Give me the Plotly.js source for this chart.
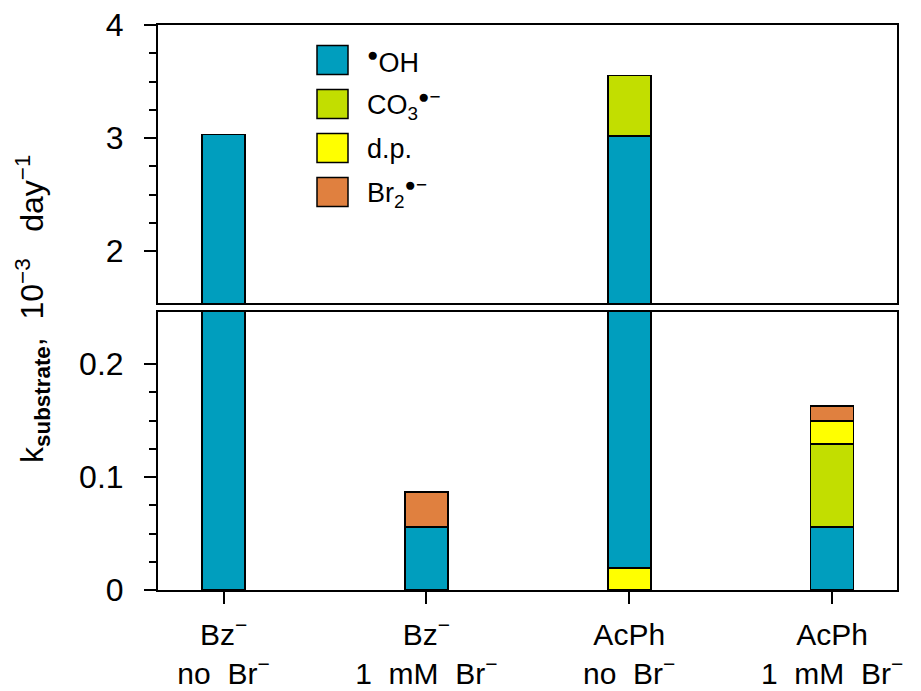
<!DOCTYPE html>
<html>
<head>
<meta charset="utf-8">
<script src="https://cdn.plot.ly/plotly-3.0.1.min.js"></script>
<style>html,body{margin:0;padding:0;background:#fff;}#chart{width:921px;height:691px;}</style>
</head>
<body>
<div id="chart"></div>
<script>
// ---- data ----
const NB = "\u00A0";
const categories = [
  "Bz<sup>−</sup><br>no" + NB + NB + "Br<sup>−</sup>",
  "Bz<sup>−</sup><br>1" + NB + NB + "mM" + NB + NB + "Br<sup>−</sup>",
  "AcPh<br>no" + NB + NB + "Br<sup>−</sup>",
  "AcPh<br>1" + NB + NB + "mM" + NB + NB + "Br<sup>−</sup>"
];
// stacking order bottom -> top: d.p.(low), •OH, CO3•−, d.p.(high), Br2•−
const dpLow  = [0, 0, 0.0195, 0];
const OH     = [3.03, 0.0555, 3.0, 0.0555];
const CO3    = [0, 0, 0.533, 0.0735];
const dpHigh = [0, 0, 0, 0.0206];
const Br2    = [0, 0.031, 0, 0.0134];

const legendLabels = ["<sup>●</sup>OH", "CO<sub>3</sub><sup>●−</sup>", "d.p.", "Br<sub>2</sub><sup>●−</sup>"];
const lowerTicks = [0, 0.1, 0.2];
const lowerTickText = ["0", "0.1", "0.2"];
const lowerMinor = [0.025, 0.05, 0.075, 0.125, 0.15, 0.175];
const upperTicks = [2, 3, 4];
const upperMinor = [2.25, 2.5, 2.75, 3.25, 3.5, 3.75];
const yTitle = "k<sub><b>substrate</b></sub>," + NB + NB + "10<sup>−3</sup>" + NB + NB + NB + "day<sup>−1</sup>";

// ---- styles ----
const C_OH = "#009EBE", C_CO3 = "#C2DE00", C_DP = "#FFFF00", C_BR = "#E0803F";
const FONT = "Liberation Sans, Arial, Helvetica, sans-serif";

const series = [
  {v: dpLow, c: C_DP},
  {v: OH, c: C_OH},
  {v: CO3, c: C_CO3},
  {v: dpHigh, c: C_DP},
  {v: Br2, c: C_BR}
];

const traces = [];
[["x", "y"], ["x2", "y2"]].forEach(([xa, ya]) => {
  series.forEach(s => {
    traces.push({
      type: "bar",
      x: categories,
      y: s.v.map(v => v === 0 ? null : v),
      xaxis: xa, yaxis: ya,
      marker: {color: s.c, line: {color: "#000", width: 1.6}},
      hoverinfo: "skip",
      showlegend: false
    });
  });
});

const shapes = [];
const annotations = [];
const legendColors = [C_OH, C_CO3, C_DP, C_BR];
const plotW = 921 - 158 - 24, plotH = 691 - 25 - 101;
const px2x = p => (p - 158) / plotW;
const py2y = p => (590 - p) / plotH;
legendLabels.forEach((lab, i) => {
  const cy = 60 + i * 44;
  shapes.push({
    type: "rect", xref: "paper", yref: "paper",
    x0: px2x(317), x1: px2x(348), y0: py2y(cy - 14.5), y1: py2y(cy + 14.5),
    fillcolor: legendColors[i], line: {color: "#000", width: 1.5}
  });
  annotations.push({
    xref: "paper", yref: "paper", x: px2x(365), y: py2y(cy + 1),
    xanchor: "left", yanchor: "middle", showarrow: false,
    text: lab, font: {family: FONT, size: 27, color: "#000"}
  });
});
annotations.push({
  xref: "paper", yref: "paper", x: px2x(33), y: py2y(309),
  xanchor: "center", yanchor: "middle", showarrow: false, textangle: -90,
  text: yTitle, font: {family: FONT, size: 32, color: "#000"}
});

const axisLine = {showline: true, linecolor: "#000", linewidth: 2, mirror: true, showgrid: false, zeroline: false};

const layout = {
  width: 921, height: 691,
  margin: {l: 158, r: 24, t: 25, b: 101, pad: 0},
  paper_bgcolor: "#fff", plot_bgcolor: "#fff",
  showlegend: false,
  barmode: "stack",
  bargap: 0.788,
  font: {family: FONT, color: "#000"},
  xaxis: Object.assign({}, axisLine, {
    anchor: "y", domain: [0, 1], range: [-0.323, 3.32], type: "category",
    ticks: "outside", ticklen: 12, tickwidth: 2, tickcolor: "#000",
    tickfont: {family: FONT, size: 30, color: "#000"}, ticklabelstandoff: 5
  }),
  xaxis2: Object.assign({}, axisLine, {
    anchor: "y2", matches: "x", domain: [0, 1], range: [-0.323, 3.32], type: "category",
    showticklabels: false, ticks: ""
  }),
  yaxis: Object.assign({}, axisLine, {
    anchor: "x", domain: [0, 0.492], range: [0, 0.246],
    tickmode: "array", tickvals: lowerTicks, ticktext: lowerTickText,
    ticks: "outside", ticklen: 12, tickwidth: 2, tickcolor: "#000",
    minor: {tickmode: "array", tickvals: lowerMinor, ticks: "outside", ticklen: 7, tickwidth: 2, tickcolor: "#000", showgrid: false},
    tickfont: {family: FONT, size: 32, color: "#000"}, ticklabelstandoff: 14
  }),
  yaxis2: Object.assign({}, axisLine, {
    anchor: "x2", domain: [0.508, 1], range: [1.54, 4],
    tickmode: "array", tickvals: upperTicks,
    ticks: "outside", ticklen: 12, tickwidth: 2, tickcolor: "#000",
    minor: {tickmode: "array", tickvals: upperMinor, ticks: "outside", ticklen: 7, tickwidth: 2, tickcolor: "#000", showgrid: false},
    tickfont: {family: FONT, size: 32, color: "#000"}, ticklabelstandoff: 14
  }),
  shapes: shapes,
  annotations: annotations
};

Plotly.newPlot("chart", traces, layout, {staticPlot: true, displayModeBar: false});
</script>
</body>
</html>
